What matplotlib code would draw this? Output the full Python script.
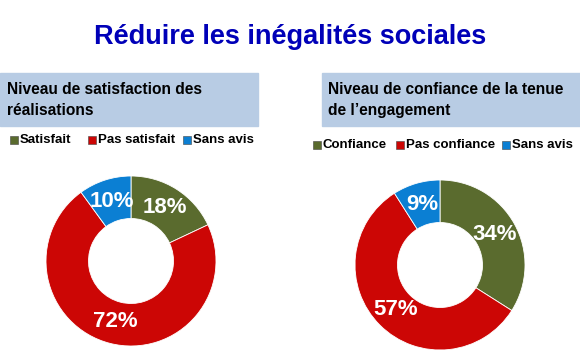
import matplotlib.pyplot as plt
from matplotlib.patches import Rectangle

plt.rcParams['font.family'] = ['Liberation Sans', 'DejaVu Sans']

title = 'Réduire les inégalités sociales'

left_title = 'Niveau de satisfaction des\nréalisations'
left_labels = ['Satisfait', 'Pas satisfait', 'Sans avis']
left_values = [18, 72, 10]

right_title = 'Niveau de confiance de la tenue\nde l\u2019engagement'
right_labels = ['Confiance', 'Pas confiance', 'Sans avis']
right_values = [34, 57, 9]

colors = ['#5a6b2e', '#cc0605', '#0b7fd3']
header_bg = '#b8cce4'

W, H = 580, 357
fig = plt.figure(figsize=(W / 100, H / 100), dpi=100)
fig.patch.set_facecolor('white')

fig.text(290 / W, 1 - 37 / H, title, ha='center', va='center',
         fontsize=19.5, fontweight='bold', color='#0000b8')

# header boxes
fig.patches.append(Rectangle((0, 1 - 126 / H), 258 / W, 53 / H,
                             transform=fig.transFigure, color=header_bg, zorder=0))
fig.patches.append(Rectangle((322 / W, 1 - 126 / H), 258 / W, 53 / H,
                             transform=fig.transFigure, color=header_bg, zorder=0))
fig.text(7 / W, 1 - 100 / H, left_title, ha='left', va='center',
         fontsize=11.2, fontweight='bold', linespacing=1.45)
fig.text(328 / W, 1 - 100 / H, right_title, ha='left', va='center',
         fontsize=11.2, fontweight='bold', linespacing=1.45)


def legend_row(x0, y, labels, gaps):
    x = x0
    for lab, c, g in zip(labels, colors, gaps):
        fig.patches.append(Rectangle((x / W, 1 - (y + 4) / H), 8 / W, 8 / H,
                                     transform=fig.transFigure, facecolor=c,
                                     edgecolor='#444444', linewidth=0.4))
        fig.text((x + 10) / W, 1 - y / H, lab, ha='left', va='center',
                 fontsize=9.5, fontweight='bold')
        x += g


legend_row(10, 140, left_labels, [78, 95, 0])
legend_row(313, 145, right_labels, [83, 106, 0])


def donut(cx, cy, values):
    r = 85
    ax = fig.add_axes([(cx - r) / W, 1 - (cy + r) / H, 2 * r / W, 2 * r / H])
    wedges, _, autotexts = ax.pie(values, colors=colors, startangle=90,
                                  counterclock=False, radius=1,
                                  autopct='%d%%', pctdistance=0.74,
                                  wedgeprops=dict(width=0.5, edgecolor='white',
                                                  linewidth=0.6))
    for t in autotexts:
        t.set_color('white')
        t.set_fontsize(16)
        t.set_fontweight('bold')
    ax.set_xlim(-1, 1)
    ax.set_ylim(-1, 1)
    ax.set_aspect('equal')
    ax.axis('off')


donut(131, 261, left_values)
donut(440, 265, right_values)

fig.savefig('out.png', dpi=100)
